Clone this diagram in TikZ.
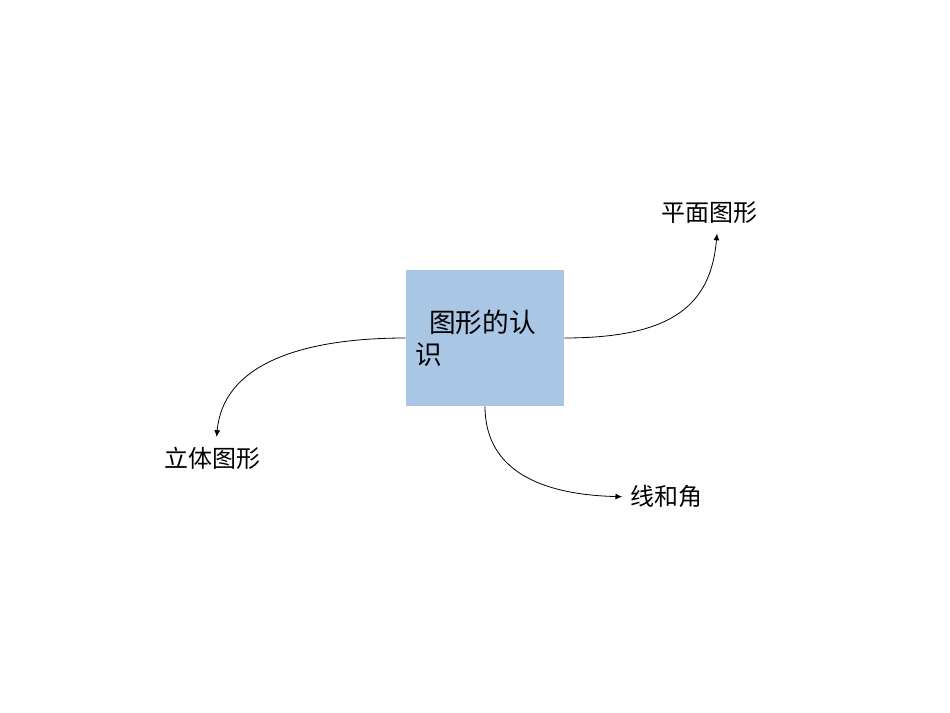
\documentclass[tikz,border=0pt]{standalone}
\usepackage{fontspec}
\setmainfont{Noto Sans CJK SC}
\usetikzlibrary{arrows.meta}
\definecolor{boxblue}{RGB}{169,198,228}

\begin{document}
\begin{tikzpicture}[x=0.75pt,y=-0.75pt,
	topic/.style={fill=boxblue, minimum width=118.5pt, minimum height=102pt, inner xsep=7pt, text width=104pt, align=left, font=\fontsize{20}{24}\selectfont},
	branch/.style={font=\fontsize{18}{21}\selectfont, inner xsep=6pt, inner ysep=7pt, text height=15.8pt, text depth=2.2pt},
	link/.style={line width=0.6pt, -{Latex[length=5pt,width=4.5pt]}}]
		\useasboundingbox (0,0) rectangle (950,713);
		\node[topic] (main) at (485,338) {\hspace*{0.5em}图形的认\\识};
		\node[branch] (solid) at (212,458.5) {立体图形};
		\node[branch] (plane) at (709,212) {平面图形};
		\node[branch] (line) at (666.4,496.7) {线和角};
		% curved links out of the box
		\draw[link] (main.west) .. controls +(-110,0) and +(6,-70) .. ([xshift=3.5pt]solid.north);
		\draw[link] (main.east) .. controls +(110,0) and +(-6,70) .. ([xshift=6pt]plane.south);
		\draw[link] (main.south) .. controls +(0,65) and +(-80,-2) .. (line.west);
	\end{tikzpicture}
\end{document}
